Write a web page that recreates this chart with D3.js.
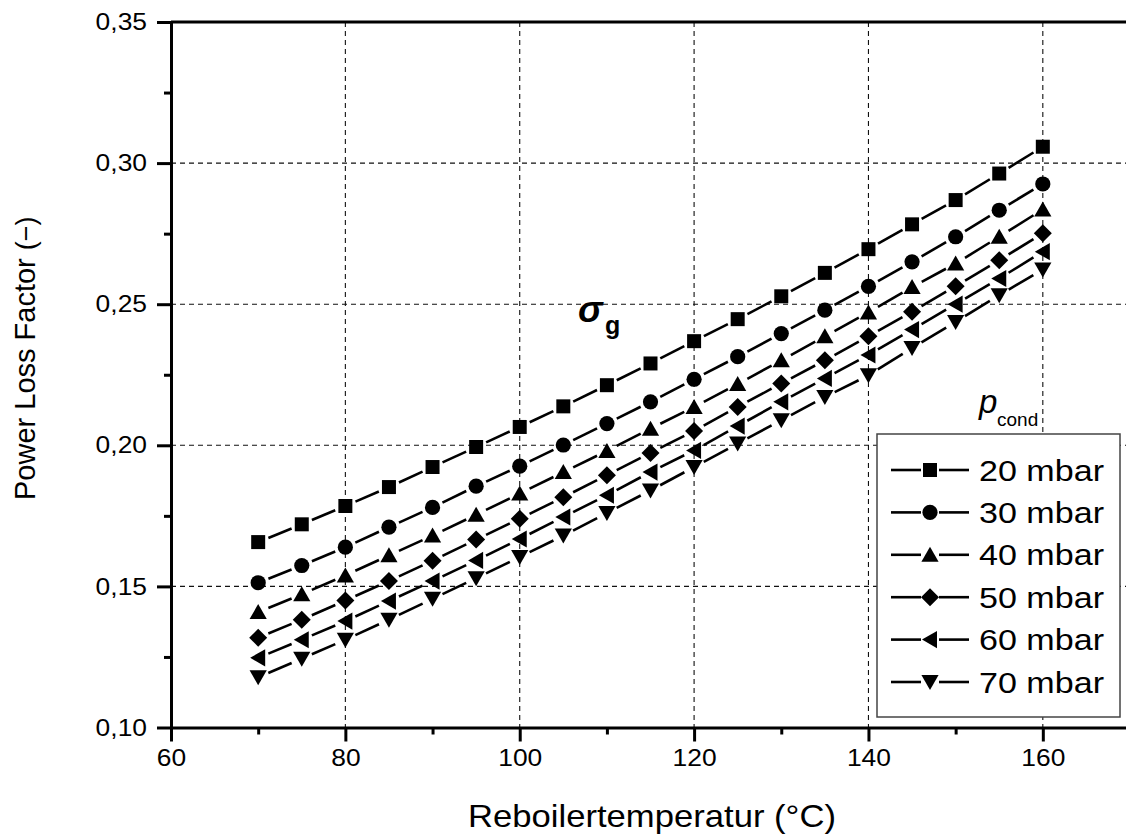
<html>
<head>
<script src="https://d3js.org/d3.v7.min.js"></script>
<style>
  body { margin: 0; background: #fff; }
  text { font-family: "Liberation Sans", Arial, sans-serif; fill: #000; }
</style>
</head>
<body>
<svg width="1126" height="834"></svg>
<script>
// data
const temps = [70, 75, 80, 85, 90, 95, 100, 105, 110, 115, 120, 125, 130, 135, 140, 145, 150, 155, 160];
const p20 = [0.1657, 0.1720, 0.1785, 0.1852, 0.1923, 0.1994, 0.2065, 0.2138, 0.2213, 0.2290, 0.2369, 0.2447, 0.2528, 0.2611, 0.2695, 0.2783, 0.2869, 0.2963, 0.3058];
const p30 = [0.1513, 0.1574, 0.1639, 0.1710, 0.1780, 0.1855, 0.1926, 0.2001, 0.2077, 0.2154, 0.2234, 0.2314, 0.2396, 0.2479, 0.2563, 0.2650, 0.2739, 0.2833, 0.2926];
const p40 = [0.1409, 0.1472, 0.1539, 0.1610, 0.1680, 0.1754, 0.1829, 0.1905, 0.1980, 0.2059, 0.2136, 0.2217, 0.2301, 0.2386, 0.2471, 0.2561, 0.2644, 0.2739, 0.2836];
const p50 = [0.1318, 0.1382, 0.1450, 0.1519, 0.1591, 0.1666, 0.1740, 0.1816, 0.1894, 0.1973, 0.2051, 0.2136, 0.2219, 0.2301, 0.2386, 0.2473, 0.2564, 0.2656, 0.2751];
const p60 = [0.1247, 0.1311, 0.1377, 0.1448, 0.1519, 0.1592, 0.1668, 0.1746, 0.1823, 0.1905, 0.1982, 0.2068, 0.2154, 0.2237, 0.2320, 0.2410, 0.2500, 0.2591, 0.2686];
const p70 = [0.1178, 0.1244, 0.1311, 0.1382, 0.1456, 0.1529, 0.1604, 0.1680, 0.1760, 0.1840, 0.1923, 0.2006, 0.2089, 0.2171, 0.2248, 0.2345, 0.2437, 0.2532, 0.2623];
const seriesNames = ["20 mbar", "30 mbar", "40 mbar", "50 mbar", "60 mbar", "70 mbar"];
const seriesMarkers = ["square", "circle", "up", "diamond", "left", "down"];
const xTicks = [60, 80, 100, 120, 140, 160];
const xMinor = [70, 90, 110, 130, 150];
const yTicks = [0.10, 0.15, 0.20, 0.25, 0.30, 0.35];
const yMinor = [0.125, 0.175, 0.225, 0.275, 0.325];
const gridX = [80, 100, 120, 140, 160];
const gridY = [0.15, 0.20, 0.25, 0.30];

const series = [p20, p30, p40, p50, p60, p70].map((v, i) => ({
  name: seriesNames[i], marker: seriesMarkers[i],
  points: temps.map((t, j) => ({ t: t, v: v[j] }))
}));

let svg = d3.select("svg");
const x = d3.scaleLinear().domain([60, 170]).range([171, 1130]);
const y = d3.scaleLinear().domain([0.10, 0.35]).range([727.5, 22]);
const de = d3.formatLocale({ decimal: ",", thousands: ".", grouping: [3], currency: ["", ""] });
const fmtY = de.format(".2f");

// marker shapes
function markerPath(type) {
  switch (type) {
    case "square": return "M-7,-7H7V7H-7Z";
    case "circle": return "M7.6,0A7.6,7.6 0 1,1 -7.6,0A7.6,7.6 0 1,1 7.6,0Z";
    case "up": return "M0,-8L8.6,7L-8.6,7Z";
    case "down": return "M0,8L8.6,-7L-8.6,-7Z";
    case "left": return "M-8,0L7,-8.6L7,8.6Z";
    case "diamond": return "M0,-9L9,0L0,9L-9,0Z";
  }
}

// the original text is a bit wider than Arial, stretch it a little
function widen(sel, k) {
  sel.each(function() {
    let w = this.getComputedTextLength();
    d3.select(this).attr("textLength", w * k).attr("lengthAdjust", "spacingAndGlyphs");
  });
}

// grid
svg.append("g").selectAll("line").data(gridX).enter().append("line")
  .attr("x1", d => x(d)).attr("x2", d => x(d))
  .attr("y1", y(0.35)).attr("y2", y(0.10))
  .attr("stroke", "#111").attr("stroke-width", 1.1).attr("stroke-dasharray", "5,4");
svg.append("g").selectAll("line").data(gridY).enter().append("line")
  .attr("x1", x(60)).attr("x2", 1126)
  .attr("y1", d => y(d)).attr("y2", d => y(d))
  .attr("stroke", "#111").attr("stroke-width", 1.1).attr("stroke-dasharray", "5,4");

// axes
svg.append("g").attr("transform", "translate(0," + y(0.10) + ")")
  .call(d3.axisBottom(x).tickValues(xTicks).tickSize(14).tickSizeOuter(0).tickPadding(7).tickFormat(d3.format("d")));
svg.append("g").attr("transform", "translate(0," + y(0.10) + ")")
  .call(d3.axisBottom(x).tickValues(xMinor).tickSize(7).tickSizeOuter(0).tickFormat(""))
  .select(".domain").remove();
svg.append("g").attr("transform", "translate(" + x(60) + ",0)")
  .call(d3.axisLeft(y).tickValues(yTicks).tickSize(14).tickSizeOuter(0).tickPadding(10).tickFormat(fmtY));
svg.append("g").attr("transform", "translate(" + x(60) + ",0)")
  .call(d3.axisLeft(y).tickValues(yMinor).tickSize(7).tickSizeOuter(0).tickFormat(""))
  .select(".domain").remove();
svg.selectAll(".domain, .tick line").attr("stroke", "#000").attr("stroke-width", 3);
svg.selectAll(".tick text").attr("font-size", 24).attr("fill", "#000");
widen(svg.selectAll(".tick text"), 1.1);
// top frame line
svg.append("line").attr("x1", x(60)).attr("x2", 1126).attr("y1", y(0.35)).attr("y2", y(0.35))
  .attr("stroke", "#000").attr("stroke-width", 3);

// series lines with gaps around markers
const gap = 11;
series.forEach(s => {
  let g = svg.append("g");
  for (let i = 0; i < s.points.length - 1; i++) {
    let x1 = x(s.points[i].t), y1 = y(s.points[i].v);
    let x2 = x(s.points[i + 1].t), y2 = y(s.points[i + 1].v);
    let L = Math.hypot(x2 - x1, y2 - y1), ux = (x2 - x1) / L, uy = (y2 - y1) / L;
    g.append("line")
      .attr("x1", x1 + ux * gap).attr("y1", y1 + uy * gap)
      .attr("x2", x2 - ux * gap).attr("y2", y2 - uy * gap)
      .attr("stroke", "#000").attr("stroke-width", 2.6);
  }
  g.selectAll("path").data(s.points).enter().append("path")
    .attr("d", markerPath(s.marker))
    .attr("transform", d => "translate(" + x(d.t) + "," + y(d.v) + ")")
    .attr("fill", "#000");
});

// axis titles
svg.append("text").attr("x", 652).attr("y", 827).attr("text-anchor", "middle")
  .attr("font-size", 32).attr("textLength", 368).attr("lengthAdjust", "spacingAndGlyphs")
  .text("Reboilertemperatur (°C)");
let yl = svg.append("text").attr("transform", "translate(35,500) rotate(-90)")
  .attr("font-size", 29);
yl.append("tspan").text("Power Loss Factor ");
yl.append("tspan").attr("font-size", 27).attr("font-weight", 300).text("(\u2212)");

// sigma_g annotation
svg.append("text").attr("x", 578).attr("y", 322).attr("font-size", 37)
  .attr("font-style", "italic").attr("font-weight", "bold").text("σ");
svg.append("text").attr("x", 605).attr("y", 334).attr("font-size", 25)
  .attr("font-weight", "bold").text("g");

// legend
svg.append("text").attr("x", 979).attr("y", 413).attr("font-size", 33)
  .attr("font-style", "italic").text("p");
svg.append("text").attr("x", 997).attr("y", 426).attr("font-size", 19).text("cond");

let legend = svg.append("g");
legend.append("rect").attr("x", 877).attr("y", 434).attr("width", 243).attr("height", 283)
  .attr("fill", "#fff").attr("stroke", "#444").attr("stroke-width", 1.5);
series.forEach((s, i) => {
  let cy = 470 + i * 42.4;
  legend.append("line").attr("x1", 891).attr("x2", 921).attr("y1", cy).attr("y2", cy)
    .attr("stroke", "#000").attr("stroke-width", 2.6);
  legend.append("line").attr("x1", 939).attr("x2", 969).attr("y1", cy).attr("y2", cy)
    .attr("stroke", "#000").attr("stroke-width", 2.6);
  legend.append("path").attr("d", markerPath(s.marker))
    .attr("transform", "translate(930," + cy + ")").attr("fill", "#000");
  legend.append("text").attr("x", 979).attr("y", cy + 10.5).attr("font-size", 29)
    .attr("textLength", 125).attr("lengthAdjust", "spacingAndGlyphs").text(s.name);
});
</script>
</body>
</html>
